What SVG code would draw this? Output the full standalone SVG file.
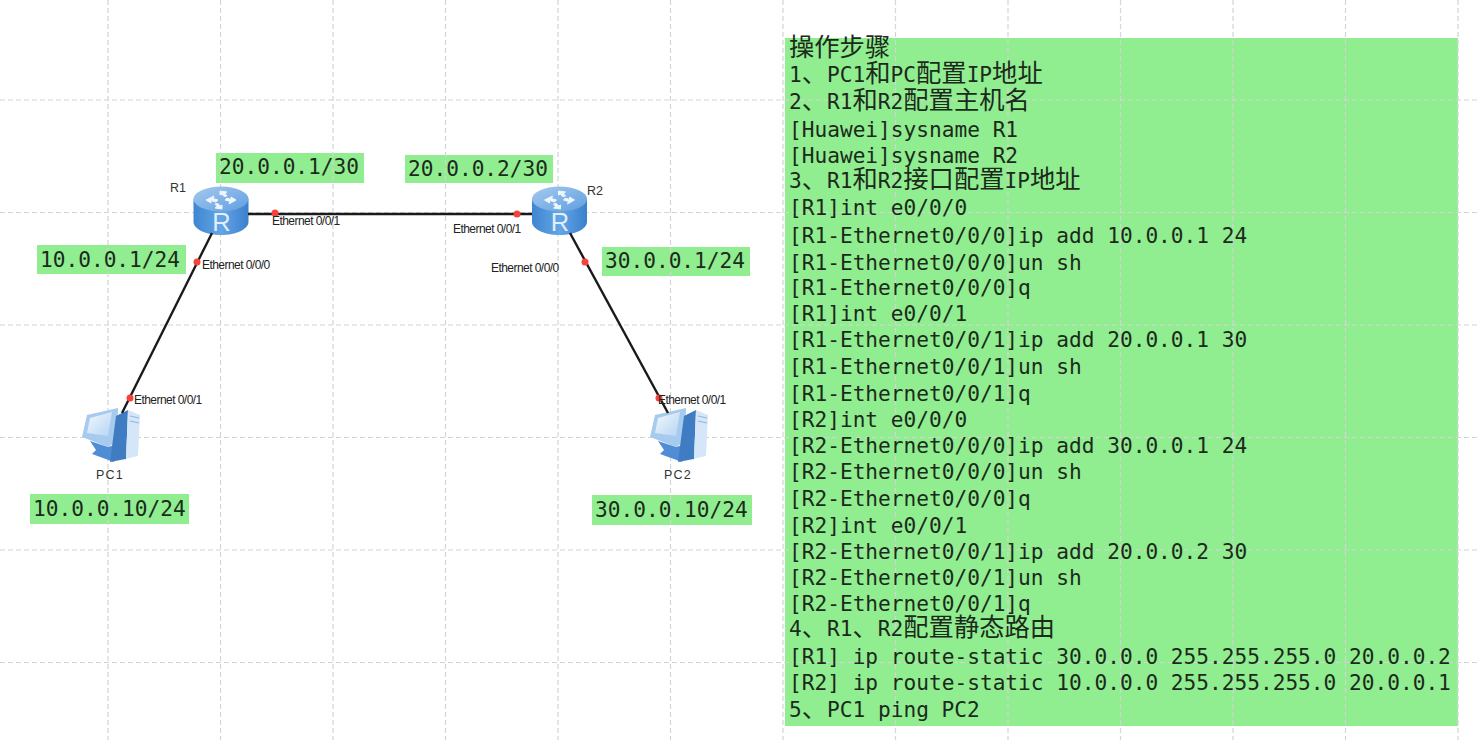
<svg xmlns="http://www.w3.org/2000/svg" width="1480" height="740" viewBox="0 0 1480 740">
<style>
.grid{stroke:#d4d4d4;stroke-width:1.2;stroke-dasharray:5 3;fill:none}
.box{fill:#90ee90}
.m{font-family:"DejaVu Sans Mono","Liberation Mono",monospace;font-size:21.15px;fill:#1c2a1c}
.c{font-family:"Noto Sans CJK SC",sans-serif;font-size:25.3px}
.t{font-family:"Liberation Sans",Arial,sans-serif;font-size:12px;fill:#222;letter-spacing:-.55px}
.n{font-family:"Liberation Sans",Arial,sans-serif;font-size:12.5px;fill:#333}
.w{letter-spacing:1.2px}
.link{stroke:#1a1a1a;stroke-width:2.4;fill:none}
.dot{fill:#f5423c}
</style>
<defs>
<linearGradient id="rs" x1="0" x2="1" y1="0" y2="0"><stop offset="0" stop-color="#3f86d0"/><stop offset=".5" stop-color="#63a5e6"/><stop offset="1" stop-color="#3b80cc"/></linearGradient>
<linearGradient id="rt" x1="0" x2="1" y1="0" y2="1"><stop offset="0" stop-color="#a5c9ef"/><stop offset="1" stop-color="#5f9fe0"/></linearGradient>
<g id="router">
<path d="M-27.500-12V11C-27.500 18 -15 24 0 24S27.500 18 27.500 11V-12Z" fill="url(#rs)"/>
<ellipse cx="0" cy="-12" rx="27.500" ry="12.500" fill="url(#rt)"/>
<path d="M-15-11L-7-15L-8-12.500L-3-11L-5-9L-10-10.500L-10-8ZM15-11L8-7L9-9.500L4-11L6-13L10-11.500L10-14ZM-1-20L6-19L4-17.500L6-15L3-14.500L1-17L-1-16ZM1-2L-6-3L-4-4.500L-6-7L-3-7.500L-1-5L1-6Z" fill="#eef5fc" stroke="#eef5fc" stroke-width="1"/>
<text x="0.500" y="20" text-anchor="middle" font-family="Liberation Sans,Arial,sans-serif" font-size="25.500" fill="#e2edfa">R</text>
</g>
<linearGradient id="scr" x1="0" x2="1" y1="0" y2="1"><stop offset="0" stop-color="#f2f8fe"/><stop offset="1" stop-color="#b5d4f2"/></linearGradient>
<g id="pc">
<path d="M87 415L118 408L117 442L108 447L82 437Z" fill="#a7cbee"/>
<path d="M90 418L112 412L108 436L87 433Z" fill="url(#scr)"/>
<path d="M90 441L108 447L118 444L114 462L92 454L96 450Z" fill="#4f8ed4"/>
<path d="M128 410L116 416L110 462L126 459Z" fill="#3f7cc2"/>
<path d="M128 410L140 415L138 456L112 462L126 459Z" fill="#d4e6f8"/>
<path d="M130 416L139 418M130 421L139 423" stroke="#8fb8e2" stroke-width="1.200" fill="none"/>
</g>
</defs>
<rect width="1480" height="740" fill="#fff"/>
<g id="boxes">
<rect class="box" x="785" y="38" width="673" height="688"/>
<rect class="box" x="216" y="153" width="148" height="30"/>
<rect class="box" x="405" y="155" width="148" height="28"/>
<rect class="box" x="37" y="245" width="149" height="29"/>
<rect class="box" x="602" y="247" width="148" height="29"/>
<rect class="box" x="30" y="494" width="159" height="30"/>
<rect class="box" x="592" y="495" width="160" height="30"/>
</g>
<g id="grid">
<path class="grid" d="M108 0V740M220.500 0V740M333 0V740M445.500 0V740M558 0V740M670.500 0V740M783 0V740M895.500 0V740M1008 0V740M1120.500 0V740M1233 0V740M1345.500 0V740M1458 0V740"/>
<path class="grid" d="M0 100H1480M0 212.500H1480M0 325H1480M0 437.500H1480M0 550H1480M0 662.500H1480"/>
</g>
<g id="R1"><use href="#router" x="221" y="211"/><text class="n" x="170" y="192">R1</text></g>
<g id="R2"><use href="#router" x="559.500" y="211"/><text class="n" x="587" y="195">R2</text></g>
<g id="PC1"><use href="#pc"/><text class="n w" x="96" y="479">PC1</text></g>
<g id="PC2"><use href="#pc" x="568"/><text class="n w" x="664" y="479">PC2</text></g>
<g id="connectors">
<path class="link" d="M248 214H532"/>
<path class="link" d="M212 233L122 413"/>
<path class="link" d="M570 233L668 413"/>
<circle class="dot" cx="275" cy="213" r="3.500"/>
<circle class="dot" cx="517" cy="214" r="3.500"/>
<circle class="dot" cx="197" cy="262" r="3.500"/>
<circle class="dot" cx="585" cy="262" r="3.500"/>
<circle class="dot" cx="130" cy="398" r="3.500"/>
<circle class="dot" cx="659" cy="398" r="3.500"/>
<text class="t" x="272" y="225">Ethernet 0/0/1</text>
<text class="t" x="453" y="233">Ethernet 0/0/1</text>
<text class="t" x="202" y="269">Ethernet 0/0/0</text>
<text class="t" x="491" y="272">Ethernet 0/0/0</text>
<text class="t" x="134" y="404">Ethernet 0/0/1</text>
<text class="t" x="658" y="404">Ethernet 0/0/1</text>
</g>
<g id="labels">
<text class="m" x="219" y="174">20.0.0.1/30</text>
<text class="m" x="408" y="176">20.0.0.2/30</text>
<text class="m" x="40" y="267">10.0.0.1/24</text>
<text class="m" x="605" y="268">30.0.0.1/24</text>
<text class="m" x="33" y="516">10.0.0.10/24</text>
<text class="m" x="595" y="517">30.0.0.10/24</text>
</g>
<g id="steps">
<text class="m" x="789" y="56"><tspan class="c">操作步骤</tspan></text>
<text class="m" x="789" y="82">1<tspan class="c">、</tspan>PC1<tspan class="c">和</tspan>PC<tspan class="c">配置</tspan>IP<tspan class="c">地址</tspan></text>
<text class="m" x="789" y="109">2<tspan class="c">、</tspan>R1<tspan class="c">和</tspan>R2<tspan class="c">配置主机名</tspan></text>
<text class="m" x="789" y="137">[Huawei]sysname R1</text>
<text class="m" x="789" y="163">[Huawei]sysname R2</text>
<text class="m" x="789" y="188">3<tspan class="c">、</tspan>R1<tspan class="c">和</tspan>R2<tspan class="c">接口配置</tspan>IP<tspan class="c">地址</tspan></text>
<text class="m" x="789" y="215">[R1]int e0/0/0</text>
<text class="m" x="789" y="243">[R1-Ethernet0/0/0]ip add 10.0.0.1 24</text>
<text class="m" x="789" y="270">[R1-Ethernet0/0/0]un sh</text>
<text class="m" x="789" y="295">[R1-Ethernet0/0/0]q</text>
<text class="m" x="789" y="321">[R1]int e0/0/1</text>
<text class="m" x="789" y="347">[R1-Ethernet0/0/1]ip add 20.0.0.1 30</text>
<text class="m" x="789" y="374">[R1-Ethernet0/0/1]un sh</text>
<text class="m" x="789" y="401">[R1-Ethernet0/0/1]q</text>
<text class="m" x="789" y="427">[R2]int e0/0/0</text>
<text class="m" x="789" y="453">[R2-Ethernet0/0/0]ip add 30.0.0.1 24</text>
<text class="m" x="789" y="479">[R2-Ethernet0/0/0]un sh</text>
<text class="m" x="789" y="506">[R2-Ethernet0/0/0]q</text>
<text class="m" x="789" y="533">[R2]int e0/0/1</text>
<text class="m" x="789" y="559">[R2-Ethernet0/0/1]ip add 20.0.0.2 30</text>
<text class="m" x="789" y="585">[R2-Ethernet0/0/1]un sh</text>
<text class="m" x="789" y="611">[R2-Ethernet0/0/1]q</text>
<text class="m" x="789" y="636">4<tspan class="c">、</tspan>R1<tspan class="c">、</tspan>R2<tspan class="c">配置静态路由</tspan></text>
<text class="m" x="789" y="664">[R1] ip route-static 30.0.0.0 255.255.255.0 20.0.0.2</text>
<text class="m" x="789" y="690">[R2] ip route-static 10.0.0.0 255.255.255.0 20.0.0.1</text>
<text class="m" x="789" y="717">5<tspan class="c">、</tspan>PC1 ping PC2</text>
</g>
</svg>
